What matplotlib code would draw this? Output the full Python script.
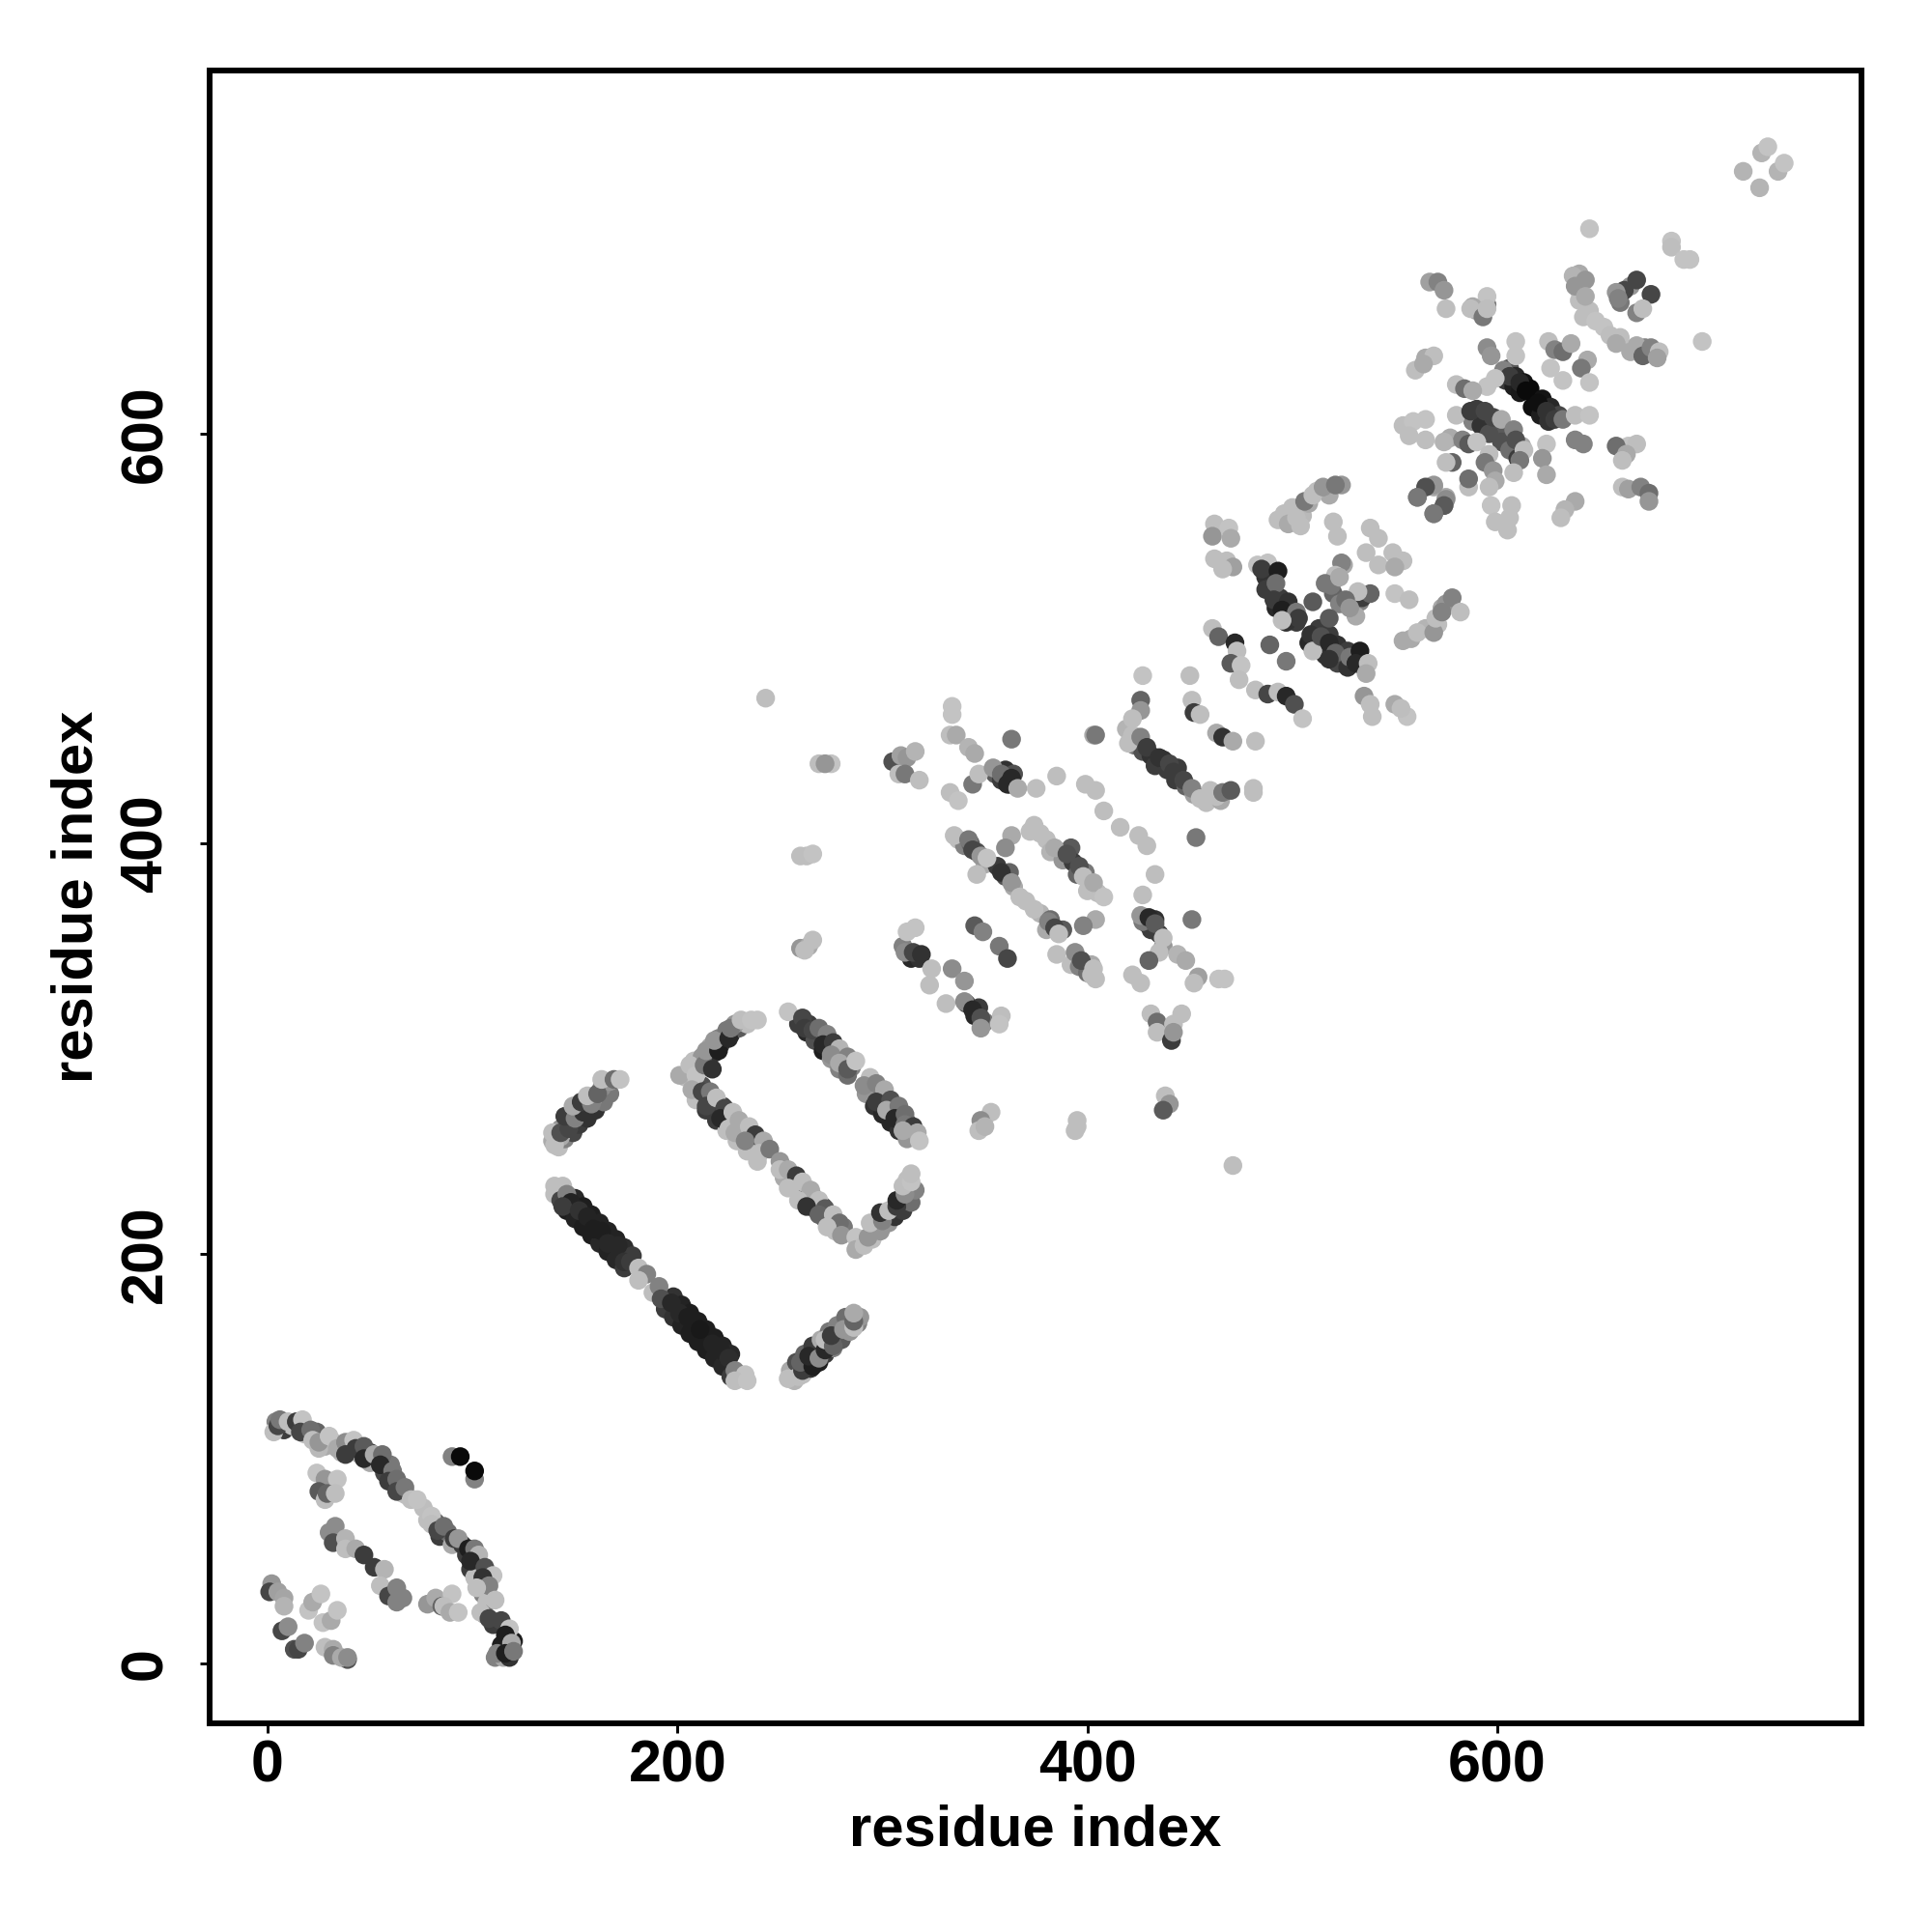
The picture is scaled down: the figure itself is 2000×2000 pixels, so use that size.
import matplotlib
matplotlib.use("Agg")
import matplotlib.pyplot as plt

plt.rcParams['font.family'] = ['Liberation Sans', 'DejaVu Sans']

# each contact: (residue i, residue j, grey level 0-255)
under_arc = [(4,118,130),(8,114,60),(12,116,190),(18,112,190),(24,113,100),(28,106,170),(32,108,190),(36,103,180),(40,105,60),(45,102,180),(50,103,60),(50,98,170),(54,100,40),(57,93,70),(60,97,120),(62,88,80),(66,83,190),(68,82,190),(76,76,190),(78,70,190),(82,69,90),(84,62,60),(88,64,110),(90,58,170),(95,58,60),(97,53,60),(99,46,60),(103,44,60),(101,42,190),(105,34,130),(107,30,190),(106,24,110),(110,19,60),(114,9,30),(111,3,130),(115,3,170),(118,3,50),(120,11,30)]
under_long = [(150,227,40),(154,223,30),(158,219,30),(162,215,35),(166,211,35),(170,207,35),(174,203,45),(178,199,60),(198,179,50),(202,175,35),(206,171,30),(210,167,30),(214,163,30),(218,159,30),(222,155,35),(226,151,40),(146,221,30),(150,217,35),(154,213,30),(158,209,30),(162,205,40),(166,201,35),(170,197,40),(174,193,60),(194,173,60),(198,169,50),(202,165,35),(206,161,30),(210,157,30),(214,153,30),(218,149,35),(222,145,40),(226,140,60)]
under_up_left = [(142,252,190),(145,256,130),(149,259,70),(152,263,60),(156,266,50),(160,270,50),(164,274,120),(167,278,120),(143,257,170),(139,255,170),(143,261,150),(147,265,50),(151,269,40),(155,273,90),(159,276,150),(163,281,140),(167,284,150)]
under_low_right = [(257,138,180),(261,141,190),(265,144,50),(269,147,30),(272,151,60),(276,154,130),(280,158,90),(284,162,150),(288,166,130),(289,169,150),(255,143,170),(258,147,80),(262,151,100),(266,155,60),(270,158,170),(274,162,120),(278,165,130),(282,169,110)]
under_mid = [(212,282,80),(217,277,100),(222,272,60),(227,267,80),(232,262,130),(237,257,80),(242,252,120),(256,238,80),(261,233,170),(266,228,120),(271,223,60),(276,218,70),(281,213,120),(209,275,190),(214,270,60),(219,265,60),(224,260,190),(229,255,190),(234,250,190),(239,245,190),(252,237,170),(257,232,190),(262,227,60),(267,222,80),(272,217,60),(277,211,190)]
under_mid_up = [(204,286,190),(210,289,170),(214,295,60),(218,298,50),(221,302,60),(226,307,50),(230,310,90),(234,312,190),(208,294,190),(212,296,150),(216,301,170),(220,305,130),(224,309,120),(228,312,150)]
under_top = [(264,312,60),(268,308,40),(272,304,50),(276,300,50),(280,296,120),(285,291,130),(259,312,60),(263,308,40),(267,304,80),(271,299,30),(275,295,150),(279,290,130),(283,287,110)]
under_top_right = [(296,280,150),(300,276,50),(304,272,60),(308,268,60),(312,264,80),(316,259,170),(292,278,150),(296,272,50),(300,268,40),(304,264,40),(308,260,50),(312,256,150)]
under_mid_right = [(290,207,190),(296,210,150),(299,214,150),(303,218,40),(307,222,50),(310,226,130),(314,230,150),(312,236,190),(295,207,190),(299,211,150),(303,215,150),(306,218,50),(310,221,60),(314,225,110),(316,231,130)]
under_diag = [(606,632,90),(609,628,40),(613,625,20),(616,622,10),(622,617,20),(626,613,40),(630,609,70),(604,626,60),(608,623,30),(611,620,25),(617,613,15),(621,609,30),(625,606,50),(590,612,60),(596,607,60),(600,603,90),(606,599,90),(612,594,170),(588,606,130),(592,604,50),(596,600,80),(602,596,80),(606,592,110),(610,588,60)]
under_e = [(487,530,50),(490,525,70),(494,520,60),(498,513,30),(502,508,60),(487,524,60),(492,515,40),(497,508,50),(508,498,40),(512,495,40),(516,492,50),(522,488,70),(527,486,50),(513,505,60),(518,502,60),(522,497,50),(527,494,60),(531,491,40),(534,487,120)]
under_centre = [(337,402,190),(340,399,130),(343,400,100),(346,396,80),(350,390,170),(356,389,60),(360,384,80),(362,386,100),(364,379,170),(370,372,190),(377,366,180),(380,358,170),(382,363,110),(388,358,90),(372,406,190),(380,402,190),(382,396,180),(388,392,150),(392,398,90),(393,391,60),(399,386,120),(395,385,100),(401,378,180),(405,376,190),(400,377,190),(392,341,190),(396,340,130),(400,337,110),(402,341,170),(402,336,190)]
under_c = [(423,448,120),(427,445,80),(431,443,50),(433,438,60),(437,441,50),(439,436,60),(443,431,60),(444,437,60),(448,428,100),(452,424,160),(458,420,190),(460,426,190),(465,421,170),(419,456,180),(420,449,190),(433,363,50),(429,361,60),(431,358,60),(435,356,60),(437,350,150),(427,362,120)]
under_left = [(355,434,90),(358,431,60),(360,436,50),(362,429,50),(364,434,80),(310,350,130),(314,344,40),(318,344,50),(341,322,80),(345,316,40),(347,320,60),(350,313,120)]
under_top_a = [(640,670,150),(640,665,190),(645,660,190),(652,652,195),(660,647,190),(665,640,170),(672,642,130),(676,639,120),(665,672,150),(660,664,120),(595,663,120),(590,660,170),(640,678,170)]
under_f = [(496,561,190),(500,564,190),(505,560,185),(508,566,170),(512,572,190),(518,570,170),(524,575,150),(493,558,190),(573,515,170),(571,507,190),(565,505,180),(558,500,170),(575,517,150),(533,518,130),(531,511,170),(525,536,170),(520,522,100),(523,517,130),(534,520,60)]

arc_low = [(3,113,190),(5,116,70),(6,119,120),(10,118,190),(14,118,60),(17,119,195),(16,113,70),(21,114,110),(22,109,190),(25,105,185),(25,108,150),(30,111,195),(34,105,170),(38,108,140),(42,109,195),(38,102,60),(43,105,60),(47,106,90),(47,100,40),(52,102,170),(56,102,110),(55,97,40),(61,94,120),(59,89,60),(63,90,110),(63,84,70),(67,86,120),(70,80,190),(73,80,195),(80,72,195),(80,68,190),(83,65,70),(86,67,110),(91,61,60),(93,61,150),(98,56,30),(101,56,120),(103,53,180),(99,50,40),(106,47,80),(110,43,195),(105,42,50),(108,38,130),(102,37,190),(111,31,190),(104,25,190),(108,22,70),(114,21,70),(118,17,195),(116,14,30),(119,10,170),(112,5,130),(116,5,30),(120,6,120)]
low_small = [(90,101,130),(94,101,10),(101,90,130),(101,94,10),(24,93,195),(28,90,150),(34,90,195),(25,84,90),(28,80,190),(29,83,100),(33,83,190),(30,64,140),(33,67,140),(32,59,80),(38,61,180),(38,56,190),(43,56,170),(47,53,60),(52,47,60),(57,46,180),(55,38,190),(59,33,70),(63,37,130),(63,30,130),(66,32,130),(2,39,150),(1,35,70),(5,35,160),(8,32,165),(8,28,180),(7,16,70),(10,18,140),(13,7,80),(15,7,70),(18,10,130),(20,26,195),(22,30,170),(26,34,195),(27,20,195),(31,21,170),(34,26,195),(28,8,190),(32,7,170),(32,4,130),(39,2,80),(36,3,170),(39,3,140),(78,29,150),(82,32,170),(85,28,100),(90,34,195),(86,28,190),(89,25,170),(93,25,195)]
band_long = [(140,233,190),(144,233,190),(140,229,190),(143,226,70),(146,229,130),(148,225,35),(144,223,60),(152,221,50),(156,218,35),(159,212,30),(163,211,30),(166,205,40),(171,204,40),(174,196,50),(177,196,60),(181,193,190),(185,190,130),(181,187,190),(188,181,190),(191,184,130),(192,178,80),(197,176,40),(201,171,40),(205,169,30),(207,163,30),(211,163,25),(217,156,35),(221,153,35),(225,149,45),(228,143,130),(233,141,195),(228,138,190),(234,138,195)]
band_up_left = [(140,253,190),(139,259,190),(143,259,80),(147,261,70),(145,267,60),(150,266,130),(154,269,50),(149,272,170),(153,274,60),(158,273,130),(156,277,190),(161,278,100),(163,285,190),(169,285,110),(172,285,195)]
band_low_right = [(254,139,190),(259,140,190),(261,143,60),(260,147,100),(266,145,30),(264,150,40),(269,149,140),(272,153,40),(272,158,190),(276,155,100),(275,160,60),(281,163,150),(286,164,190),(286,167,100),(286,171,170)]
band_mid_up = [(201,287,170),(206,292,190),(209,287,195),(213,292,120),(217,290,50),(214,299,150),(220,299,30),(218,304,150),(225,305,40),(226,310,120),(231,314,190),(236,314,195),(239,314,195)]
band_mid = [(207,280,170),(212,279,70),(216,279,120),(214,272,70),(219,276,190),(223,271,70),(221,266,40),(227,269,190),(225,261,190),(230,265,170),(228,259,170),(235,262,190),(238,258,60),(233,255,130),(242,255,170),(240,249,190),(245,251,120),(250,245,150),(250,241,190),(254,241,170),(258,238,60),(254,232,190),(261,235,190),(265,231,170),(259,226,190),(269,226,190),(263,223,50),(272,222,90),(269,219,100),(276,219,190),(279,215,110),(273,213,190),(280,209,150),(287,208,195),(287,202,170)]
band_mid_right = [(291,204,190),(293,208,150),(294,215,190),(300,216,130),(299,220,50),(303,221,190),(307,223,60),(307,226,40),(311,229,140),(310,233,190),(314,235,195),(314,239,190)]
band_top = [(254,318,195),(261,315,70),(262,310,60),(266,309,70),(269,310,110),(273,307,130),(271,302,40),(276,303,60),(279,300,180),(275,297,140),(283,296,130),(279,293,170),(283,290,90),(287,294,195)]
band_top_right = [(294,286,190),(291,282,140),(297,283,130),(301,280,170),(297,274,60),(304,275,80),(302,270,170),(308,272,120),(306,266,40),(311,268,110),(311,263,120),(315,262,60),(310,260,170),(317,259,170),(318,255,195)]
isolated = [(243,471,190),(471,243,190),(269,439,190),(275,439,195),(272,439,150),(260,394,190),(263,394,190),(266,395,195),(260,349,150),(264,350,170),(266,353,190),(262,348,190),(353,269,190),(348,265,140),(347,260,190),(350,262,180),(395,265,190),(394,260,190),(395,262,190),(438,277,190),(440,273,150),(437,270,90)]
centre_left = [(334,467,195),(334,463,195),(333,453,190),(336,453,170),(342,447,180),(345,444,170),(363,451,120),(305,440,80),(309,443,160),(312,442,150),(316,445,180),(308,434,190),(311,434,120),(318,431,190),(344,429,120),(347,434,190),(333,425,190),(337,421,195),(354,437,150),(358,434,110),(363,432,40),(361,429,40),(366,427,170),(375,427,190),(385,433,190)]
centre_band = [(335,404,190),(342,402,120),(344,397,70),(348,394,150),(351,393,195),(346,385,190),(363,404,170),(360,398,140),(358,386,50),(363,381,150),(367,374,190),(374,368,190),(381,362,130),(384,359,70),(386,356,190),(374,409,190),(377,405,190),(384,398,170),(390,395,80),(396,389,80),(398,384,190),(403,381,170),(408,374,195),(404,363,170),(398,360,130),(385,346,190),(394,347,140),(397,343,80),(403,339,190),(404,334,190)]
centre_right = [(403,453,170),(404,453,120),(399,429,190),(404,426,190),(408,416,190),(416,408,190),(425,404,190),(429,399,190),(453,403,120),(433,385,190),(427,375,190),(451,363,120),(426,365,150),(430,364,40),(433,361,90),(437,354,190),(435,347,190),(430,343,100),(444,346,180),(448,343,170),(454,335,160),(452,332,190),(464,334,195),(467,334,195),(422,336,190),(426,332,190)]
centre_low = [(316,359,195),(312,357,195),(311,347,140),(315,347,70),(319,346,50),(324,339,190),(334,339,140),(340,333,150),(323,331,190),(331,322,190),(340,323,140),(344,319,40),(348,315,80),(348,310,150),(358,316,190),(357,312,195),(345,360,90),(349,357,130),(357,350,120),(361,344,70),(431,317,190),(434,313,110),(434,308,190),(441,304,60),(442,312,190),(442,308,150),(446,317,190)]
upper_c = [(427,482,195),(450,482,190),(426,470,100),(426,465,150),(422,461,190),(422,453,190),(426,452,130),(429,447,60),(435,442,50),(440,439,70),(442,435,60),(447,431,70),(451,427,130),(455,422,190),(463,423,190),(466,425,120),(470,426,90),(481,427,190),(481,425,190),(451,470,190),(452,464,60),(455,463,190),(463,454,170),(466,452,50),(471,450,170),(482,450,190)]
upper_d = [(461,505,190),(464,501,100),(472,498,40),(473,494,190),(470,488,90),(475,487,195),(474,480,190),(482,475,190),(488,473,70),(493,474,190),(497,472,40),(501,468,80),(505,461,195),(462,556,190),(469,554,195),(461,550,150),(470,549,170),(462,539,190),(468,538,190),(471,535,160),(466,534,190),(497,489,120),(489,497,100),(510,518,90),(518,510,90)]
upper_e = [(483,536,195),(488,537,195),(485,534,60),(493,533,30),(492,527,110),(491,519,60),(498,518,50),(495,514,30),(502,513,120),(503,510,60),(495,509,190),(509,502,50),(510,494,190),(514,501,80),(518,498,40),(521,493,100),(518,490,50),(528,491,120),(533,494,30),(531,488,40),(537,488,190),(536,483,170)]
upper_f = [(524,537,130),(521,531,190),(516,527,120),(519,526,120),(523,530,170),(538,522,100),(532,523,190),(526,519,110),(528,515,150),(520,557,190),(522,550,190),(498,556,170),(502,559,190),(504,555,190),(506,567,120),(510,570,190),(515,574,150),(521,575,120),(538,554,190),(542,549,190),(536,542,190),(542,536,190),(549,542,190),(554,538,190),(550,535,170),(550,522,195),(557,519,190),(554,499,170),(561,503,190),(569,503,150),(570,510,190),(573,513,130),(578,520,130),(582,513,190),(561,569,130),(569,574,170),(575,569,170),(569,561,130),(574,565,120),(535,472,150),(538,468,190),(539,462,190),(550,468,170),(556,462,195),(553,466,190)]
top_far = [(729,737,180),(732,740,195),(720,728,180),(737,728,180),(740,732,195),(728,720,180),(645,700,195),(685,694,195),(685,691,190),(691,685,195),(694,685,195),(700,645,195)]
top_a = [(668,675,70),(675,668,70),(662,670,70),(658,669,150),(659,666,130),(668,659,130),(671,661,190),(637,677,180),(643,675,150),(638,672,150),(643,667,170),(642,657,190),(648,655,195),(655,648,190),(658,644,170),(668,643,170),(671,638,100),(675,642,130),(679,640,190),(678,637,160),(567,674,160),(571,674,130),(574,670,150),(575,661,190),(595,667,195),(588,662,170),(587,661,190),(593,657,120),(595,661,190)]
top_b = [(595,642,140),(597,638,150),(609,645,195),(609,638,195),(625,645,190),(628,641,130),(632,640,110),(636,644,170),(644,636,170),(641,632,120),(626,632,195),(632,626,195),(645,625,195),(565,637,170),(569,638,190),(560,631,190),(564,634,170),(603,631,130),(606,628,60),(611,625,40),(614,621,10),(620,615,15),(624,611,50),(628,607,60),(632,607,120),(638,609,190),(645,609,195),(595,623,195),(599,627,195),(580,624,190),(584,622,110),(588,621,170)]
top_c = [(580,609,190),(587,611,60),(594,611,70),(598,608,70),(602,607,170),(608,602,130),(609,597,80),(613,592,190),(611,587,120),(608,581,190),(624,595,195),(622,588,150),(624,580,170),(638,597,130),(642,595,130),(554,604,190),(559,606,195),(565,607,195),(557,599,190),(565,597,190),(577,598,170),(583,597,130),(586,595,90),(590,596,195),(574,596,180),(596,590,190),(594,586,120),(598,582,150),(599,577,170),(596,574,190),(578,586,100),(575,586,190),(586,574,190),(586,578,110),(569,575,150),(565,574,80),(561,569,120),(575,568,140),(574,565,90),(569,561,120),(597,565,195),(607,565,190),(606,559,190),(599,557,190),(605,553,190),(638,567,170),(633,563,180),(631,559,190),(664,594,195),(668,595,190),(658,594,110),(663,590,170),(661,587,190),(661,574,190),(664,573,160),(670,574,130),(674,571,110),(674,567,150)]

groups = [under_arc, under_long, under_up_left, under_low_right, under_mid, under_mid_up, under_top, under_top_right, under_mid_right, under_diag, under_e, under_centre, under_c, under_left, under_top_a, under_f,
          low_small, arc_low, band_long, band_up_left, band_low_right, band_mid_up, band_mid, band_mid_right, band_top, band_top_right, isolated, centre_left, centre_band, centre_right, centre_low, upper_c, upper_d, upper_e, upper_f, top_far, top_a, top_b, top_c]

tick_values = [0, 200, 400, 600]
axis_title = "residue index"

fig = plt.figure(figsize=(20, 20), dpi=100)
ax = fig.add_axes([217/2000, 1 - 1783.5/2000, (1927-217)/2000, (1783.5-73)/2000])

for pts in groups:
    xs = [p[0] for p in pts]
    ys = [p[1] for p in pts]
    gs = [p[2] for p in pts]
    ax.scatter(xs, ys, c=gs, cmap='gray', vmin=0, vmax=255, s=195, linewidths=0, zorder=2)

ax.set_xlim(-28.3, 777.7)
ax.set_ylim(-28.9, 777.2)
ax.set_xticks(tick_values)
ax.set_yticks(tick_values)
ax.set_xticklabels([str(v) for v in tick_values], fontsize=44, fontweight='bold')
ax.set_yticklabels([str(v) for v in tick_values], fontsize=44, fontweight='bold', rotation=90, va='center')
ax.tick_params(axis='x', length=7.5, width=2.1, pad=5)
ax.tick_params(axis='y', length=7.5, width=2.1, pad=19)
ax.set_xlabel(axis_title, fontsize=43, fontweight='bold', labelpad=7)
ax.set_ylabel(axis_title, fontsize=43, fontweight='bold', labelpad=11)
for s in ax.spines.values():
    s.set_linewidth(4.3)

fig.savefig("out.png", dpi=100, facecolor='white')
